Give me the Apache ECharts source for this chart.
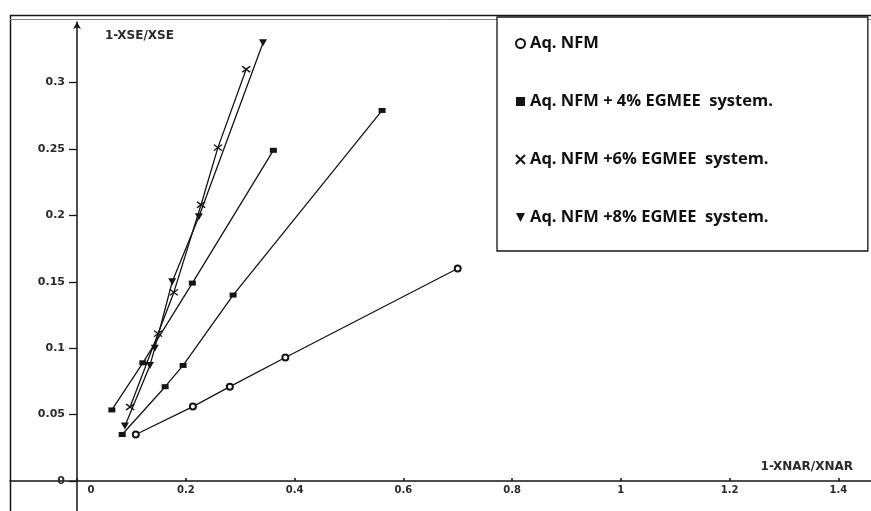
<!DOCTYPE html>
<html>
<head>
<meta charset="utf-8">
<script src="https://cdn.jsdelivr.net/npm/echarts@6/dist/echarts.min.js"></script>
<style>
  html, body { margin: 0; padding: 0; background: #fff; }
  #chart { width: 871px; height: 511px; }
</style>
</head>
<body>
<div id="chart"></div>
<script>
// Axis tick positions and labels
const xTicks = [0, 0.2, 0.4, 0.6, 0.8, 1, 1.2, 1.4];
const yTicks = [0, 0.05, 0.1, 0.15, 0.2, 0.25, 0.3];

// Series names
const names = [
  'Aq. NFM',
  'Aq. NFM + 4% EGMEE  system.',
  'Aq. NFM +6% EGMEE  system.',
  'Aq. NFM +8% EGMEE  system.'
];

// Aq. NFM (open circles)
const nfmX = [0.108, 0.213, 0.281, 0.383, 0.700];
const nfmY = [0.035, 0.056, 0.071, 0.093, 0.160];

// Aq. NFM + 4% EGMEE (filled squares), two runs
const eg4aX = [0.083, 0.162, 0.195, 0.287, 0.561];
const eg4aY = [0.035, 0.071, 0.087, 0.140, 0.279];
const eg4bX = [0.064, 0.121, 0.212, 0.361];
const eg4bY = [0.0535, 0.089, 0.149, 0.249];

// Aq. NFM + 6% EGMEE (crosses)
const eg6X = [0.0975, 0.149, 0.178, 0.228, 0.259, 0.311];
const eg6Y = [0.0557, 0.111, 0.142, 0.208, 0.251, 0.310];

// Aq. NFM + 8% EGMEE (filled down-triangles)
const eg8X = [0.088, 0.134, 0.143, 0.175, 0.224, 0.342];
const eg8Y = [0.0414, 0.087, 0.100, 0.150, 0.199, 0.330];

const pairs = (xs, ys) => xs.map((x, i) => [x, ys[i]]);

const ink = '#151515';
const crossPath = 'path://M0,0L10,10M10,0L0,10';
const triDownPath = 'path://M0,0L10,0L5,10Z';
const labelFont = { fontFamily: 'DejaVu Sans', fontWeight: 'bold', fontSize: 11, color: '#2a2a2a' };

function lineSeries(name, data, symbol, symbolSize, itemStyle) {
  return {
    type: 'line',
    name: name,
    data: data,
    symbol: symbol,
    symbolSize: symbolSize,
    showAllSymbol: true,
    lineStyle: { color: ink, width: 1.3 },
    itemStyle: itemStyle,
    emphasis: { disabled: true },
    z: 3
  };
}

const chart = echarts.init(document.getElementById('chart'), null, { renderer: 'canvas' });

// The plot spans the whole frame; both axes are pulled inward so that they
// cross at the origin, with their lines running on to the frame edges.
chart.setOption({
  animation: false,
  backgroundColor: '#ffffff',
  grid: { left: 10, right: 0, top: 22, bottom: 0, outerBoundsMode: 'none', containLabel: false },
  xAxis: {
    type: 'value',
    min: -0.1233,
    max: 1.46,
    offset: -30,
    axisLine: { onZero: false, lineStyle: { color: ink, width: 1.5 } },
    axisTick: { customValues: xTicks, inside: true, length: 3, lineStyle: { color: ink, width: 1.5 } },
    axisLabel: {
      customValues: xTicks,
      margin: 4,
      ...labelFont,
      fontSize: 10,
      formatter: v => (v === 0 ? '{z|0}' : String(v)),
      rich: { z: { padding: [0, 0, 0, 28], ...labelFont, fontSize: 10 } }
    },
    splitLine: { show: false },
    name: '1-XNAR/XNAR',
    nameLocation: 'end',
    nameGap: -18,
    nameTextStyle: { ...labelFont, fontSize: 12, align: 'right', verticalAlign: 'bottom', padding: [0, 0, 8, 0] }
  },
  yAxis: {
    type: 'value',
    min: -0.0226,
    max: 0.3456,
    offset: -67,
    axisLine: { onZero: false, symbol: ['none', 'arrow'], symbolSize: [6, 7], lineStyle: { color: ink, width: 1.5 } },
    axisTick: { customValues: yTicks, inside: false, length: 8, lineStyle: { color: ink, width: 1.3 } },
    axisLabel: {
      customValues: yTicks,
      margin: 12,
      ...labelFont,
      formatter: v => String(v)
    },
    splitLine: { show: false },
    name: '1-XSE/XSE',
    nameLocation: 'end',
    nameGap: -8,
    nameTextStyle: { ...labelFont, fontSize: 12, align: 'left', verticalAlign: 'top', padding: [0, 0, 0, 28] }
  },
  legend: {
    orient: 'vertical',
    left: 497,
    top: 17,
    padding: [18, 95, 25, 18],
    itemGap: 41,
    itemWidth: 9,
    itemHeight: 9,
    selectedMode: false,
    backgroundColor: '#ffffff',
    borderColor: ink,
    borderWidth: 1.3,
    borderRadius: 0,
    textStyle: { fontFamily: 'Open Sans', fontWeight: 'bold', fontSize: 16.5, color: '#111' },
    data: [
      { name: names[0], icon: 'emptyCircle' },
      { name: names[1], icon: 'rect' },
      { name: names[2], icon: crossPath },
      { name: names[3], icon: triDownPath }
    ]
  },
  graphic: [
    { type: 'line', silent: true, shape: { x1: 10.5, y1: 15, x2: 10.5, y2: 511 }, style: { stroke: ink, lineWidth: 1.5 } },
    { type: 'line', silent: true, shape: { x1: 10, y1: 15.5, x2: 871, y2: 15.5 }, style: { stroke: ink, lineWidth: 1.5 } },
    { type: 'line', silent: true, shape: { x1: 10, y1: 19.5, x2: 871, y2: 19.5 }, style: { stroke: '#8a8a8a', lineWidth: 1 } }
  ],
  series: [
    lineSeries(names[0], pairs(nfmX, nfmY), 'emptyCircle', 6, { color: ink, borderColor: ink, borderWidth: 1.3 }),
    lineSeries(names[1], pairs(eg4aX, eg4aY), 'rect', [7, 5], { color: ink }),
    lineSeries(names[1], pairs(eg4bX, eg4bY), 'rect', [7, 5], { color: ink }),
    lineSeries(names[2], pairs(eg6X, eg6Y), crossPath, [8, 6], { color: 'rgba(0,0,0,0)', borderColor: ink, borderWidth: 1.4 }),
    lineSeries(names[3], pairs(eg8X, eg8Y), triDownPath, [8, 7], { color: ink })
  ]
});
</script>
</body>
</html>
